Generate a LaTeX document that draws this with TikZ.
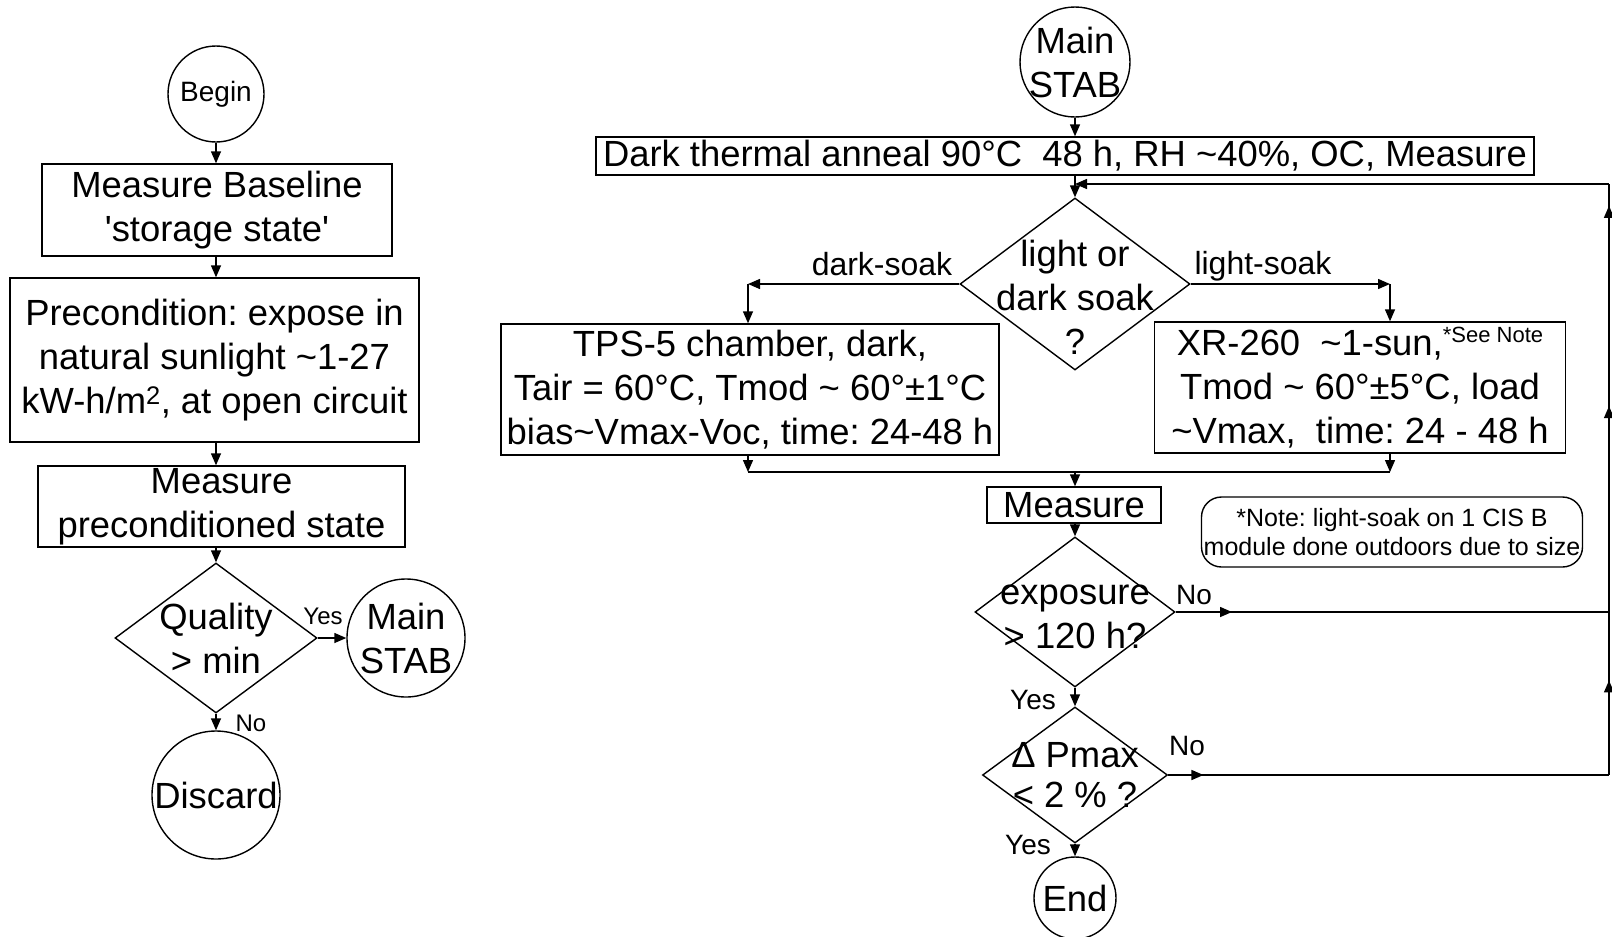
\documentclass[tikz,border=0pt]{standalone}
\usepackage{fontspec}
\setmainfont{Liberation Sans}
\usetikzlibrary{shapes.geometric,arrows.meta,decorations.markings}
\newcommand\fsz[2]{\fontsize{#1}{#2}\selectfont}
\newcommand\tld{\textasciitilde}
\frenchspacing
\begin{document}
\begin{tikzpicture}[x=1pt,y=-1pt,font=\fsz{36.4}{44},
  >={Triangle[length=12pt,width=10pt]},
  ln/.style={line width=1.4pt},
  arr/.style={ln,->},
  box/.style={draw,ln,inner sep=0pt,align=center},
  dia/.style={diamond,draw,ln,inner sep=0pt},
  circ/.style={circle,draw,ln,inner sep=0pt},
  txt/.style={align=center,inner sep=0pt},
  labs/.style={inner sep=0pt,font=\fsz{#1}{#1}},
  markat/.style={postaction=decorate,decoration={markings,mark=at position #1 with {\arrow{>}}}},
  marktwo/.style 2 args={postaction=decorate,decoration={markings,mark=at position #1 with {\arrow{>}},mark=at position #2 with {\arrow{>}}}}
]
\path[fill=white,use as bounding box] (0,0) rectangle (1612,937);

% ---------- left chart ----------
\node[circ,minimum size=96pt,font=\fsz{28}{28}] (bgn) at (216,94) {Begin};
\node[box,minimum width=350pt,minimum height=92pt] (mb) at (217,210) {Measure Baseline\\\textquotesingle storage state\textquotesingle};
\node[box,minimum width=409pt,minimum height=164pt] (pre) at (214.5,360) {Precondition: expose in\\natural sunlight \tld1-27\\kW-h/m\textsuperscript{2}, at open circuit};
\node[box,minimum width=367pt,minimum height=81pt] (mp) at (221.5,506.5) {Measure\\preconditioned state};
\node[dia,minimum width=202pt,minimum height=150pt] (q) at (216,638) {};
\node[txt] (qt) at (q) {Quality\\> min};
\node[circ,minimum size=118pt] (ms2) at (406,638) {};
\node[txt] (ms2t) at (ms2) {Main\\STAB};
\node[circ,minimum size=128pt] (disc) at (216,795) {};
\node[txt] (disct) at (disc) {Discard};
\node[labs=24] (yesL) at (323,616) {Yes};
\node[labs=24] (noL) at (251,723) {No};

\draw[arr] (bgn.south) -- (bgn.south |- mb.north);
\draw[arr] (bgn.south |- mb.south) -- (bgn.south |- pre.north);
\draw[arr] (bgn.south |- pre.south) -- (bgn.south |- mp.north);
\draw[arr] (bgn.south |- mp.south) -- (q.north);
\draw[arr] (q.east) -- (ms2.west);
\draw[arr] (q.south) -- (disc.north);

% ---------- right chart ----------
\node[circ,minimum size=110pt] (ms) at (1075,62) {};
\node[txt] (mst) at (ms) {Main\\STAB};
\node[box,minimum width=938pt,minimum height=38pt] (dta) at (1065,156) {Dark thermal anneal 90°C\ \ 48 h, RH \tld40\%, OC, Measure};
\node[dia,minimum width=230pt,minimum height=172pt] (ld) at (1075,284) {};
\node[txt] (ldt) at (1075,297) {light or\\dark soak\\?};
\node[box,minimum width=498pt,minimum height=131pt] (tps) at (750,389.5) {TPS-5 chamber, dark,\\Tair = 60°C, Tmod \tld{} 60°±1°C\\bias\tld Vmax-Voc, time: 24-48 h};
\node[box,minimum width=411pt,minimum height=131pt] (xr) at (1360,387.5) {XR-260\ \ \tld1-sun,\raisebox{13pt}{\fsz{22}{22}*See Note}\\Tmod \tld{} 60°±5°C, load\\\tld Vmax,\ \ time: 24 - 48 h};
\node[labs=32] (dsl) at (882,264) {dark-soak};
\node[labs=32] (lsl) at (1263,266) {light-soak};

\draw[arr] (ms.south) -- (ms.south |- dta.north);
\draw[arr] (ld.north |- dta.south) -- (ld.north);

\coordinate (dsc) at (748,284);
\coordinate (lsc) at (1390,284);
\draw[arr] (ld.west) -- (dsc);
\draw[arr] (dsc) -- (dsc |- tps.north);
\draw[arr] (ld.east) -- (lsc);
\draw[arr] (lsc) -- (lsc |- xr.north);

\coordinate (mL) at (748,472);
\coordinate (mR) at (1390,472);
\coordinate (mC) at (1075,472);
\draw[arr] (mL |- tps.south) -- (mL);
\draw[arr] (mR |- xr.south) -- (mR);
\draw[ln] (mL) -- (mR);

\node[box,minimum width=174pt,minimum height=36pt] (meas) at (1074,505) {Measure};
\draw[arr] (mC) -- (mC |- meas.north);
\node[draw,ln,rounded corners=20pt,minimum width=381pt,minimum height=70pt,align=center,inner sep=0pt,font=\fsz{25}{29}] (note) at (1392,532) {*Note: light-soak on 1 CIS B\\module done outdoors due to size};

\node[dia,minimum width=200pt,minimum height=150pt] (ex) at (1075,612) {};
\node[txt] (ext) at (1075,617) {exposure\\> 120 h?};
\draw[arr] (mC |- meas.south) -- (ex.north);
\node[dia,minimum width=185pt,minimum height=136pt] (dp) at (1075,775) {};
\node[txt,font=\fsz{36.4}{40}] (dpt) at (dp) {Δ Pmax\\< 2 \% ?};
\draw[arr] (ex.south) -- (dp.north);
\node[circ,minimum size=82pt] (endc) at (1075,898) {};
\node[txt] (endt) at (endc) {End};
\draw[arr] (dp.south) -- (endc.north);

\node[labs=28] (noE) at (1194,595) {No};
\node[labs=28] (yesE) at (1033,700) {Yes};
\node[labs=28] (noD) at (1187,746) {No};
\node[labs=28] (yesD) at (1028,845) {Yes};

\coordinate (r1) at (1609,775);
\coordinate (r2) at (1609,612);
\coordinate (r3) at (1609,184);
\coordinate (jn) at (1075,184);
\draw[ln,markat=0.08] (dp.east) -- (r1);
\draw[ln,markat=0.58] (r1) -- (r2);
\draw[ln,markat=0.13] (ex.east) -- (r2);
\draw[ln,marktwo={0.481}{0.949}] (r2) -- (r3);
\draw[arr] (r3) -- (jn);
\end{tikzpicture}
\end{document}
